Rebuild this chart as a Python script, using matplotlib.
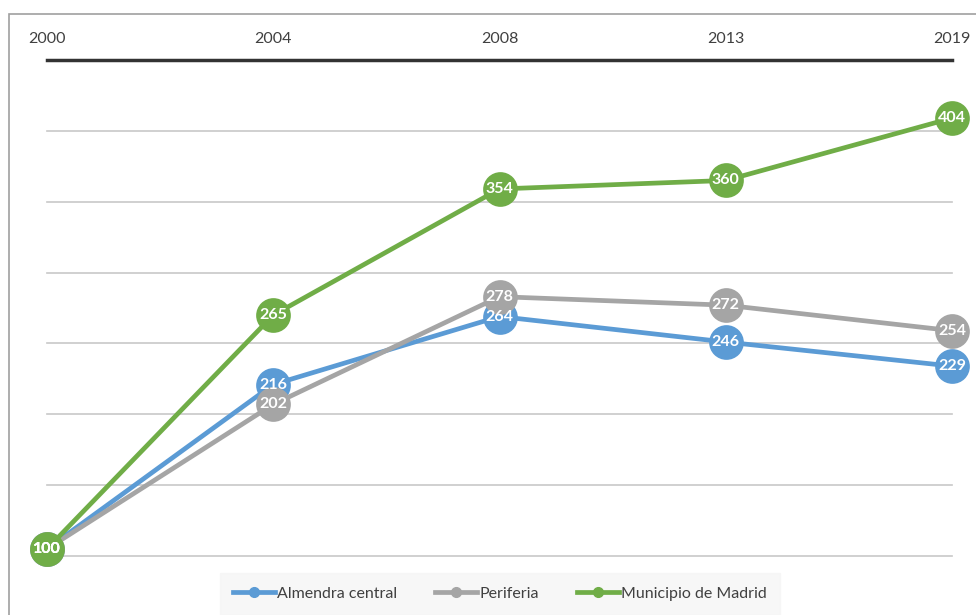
import numpy as np
import matplotlib.pyplot as plt
from matplotlib.patches import Rectangle
from matplotlib.lines import Line2D

plt.rcParams['font.family'] = ['Lato', 'DejaVu Sans']

# data
years = ['2000', '2004', '2008', '2013', '2019']
almendra = [100, 216, 264, 246, 229]
periferia = [100, 202, 278, 272, 254]
madrid = [100, 265, 354, 360, 404]
grid_vals = [95, 145, 195, 245, 295, 345, 395]

series = [
    ('Almendra central', almendra, '#5B9BD5'),
    ('Periferia', periferia, '#A5A5A5'),
    ('Municipio de Madrid', madrid, '#70AD47'),
]

fig = plt.figure(figsize=(9.76, 6.15), dpi=100)
ax = fig.add_axes([47 / 976, 1 - 556 / 615, (952 - 47) / 976, (556 - 60) / 615])

x = np.arange(len(years))
for g in grid_vals:
    ax.axhline(g, color='#C8C8C8', lw=1.2, zorder=1, clip_on=False)

for name, vals, col in series:
    ax.plot(x, vals, color=col, lw=3.4, marker='o', markersize=25,
            markeredgewidth=0, solid_capstyle='butt', zorder=3, clip_on=False)

for name, vals, col in series:
    for xi, v in zip(x, vals):
        ax.text(xi, v, str(v), color='white', fontsize=11.5, fontweight='bold',
                ha='center', va='center', zorder=5)

ax.set_xlim(0, len(years) - 1)
ax.set_ylim(95, 445)
ax.set_yticks([])
ax.xaxis.tick_top()
ax.set_xticks(x)
ax.set_xticklabels(years, fontsize=11.5, color='#404040')
ax.tick_params(axis='x', length=0, pad=10)
for s in ['left', 'right', 'bottom']:
    ax.spines[s].set_visible(False)
ax.spines['top'].set_color('#333333')
ax.spines['top'].set_linewidth(2.5)
ax.patch.set_alpha(0)

# chart border
fig.patches.append(Rectangle((9 / 976, -0.05), 1.05, 1 - 14 / 615 + 0.05,
                             transform=fig.transFigure, fill=False,
                             edgecolor='#A0A0A0', lw=1.2))

# legend
handles = [Line2D([0], [0], color=col, lw=3.4, marker='o', markersize=7)
           for name, vals, col in series]
leg = fig.legend(handles, [s[0] for s in series], loc='center',
                 bbox_to_anchor=(500 / 976, 1 - 594 / 615), ncol=3,
                 frameon=True, fontsize=11.5, handlelength=2.6, columnspacing=2.4,
                 handletextpad=0.15, borderpad=0.55, borderaxespad=0)
leg.get_frame().set_facecolor('#F5F5F5')
leg.get_frame().set_edgecolor('#F5F5F5')
leg.get_frame().set_boxstyle('square')
for t in leg.get_texts():
    t.set_color('#404040')

fig.savefig('out.png', dpi=100)
